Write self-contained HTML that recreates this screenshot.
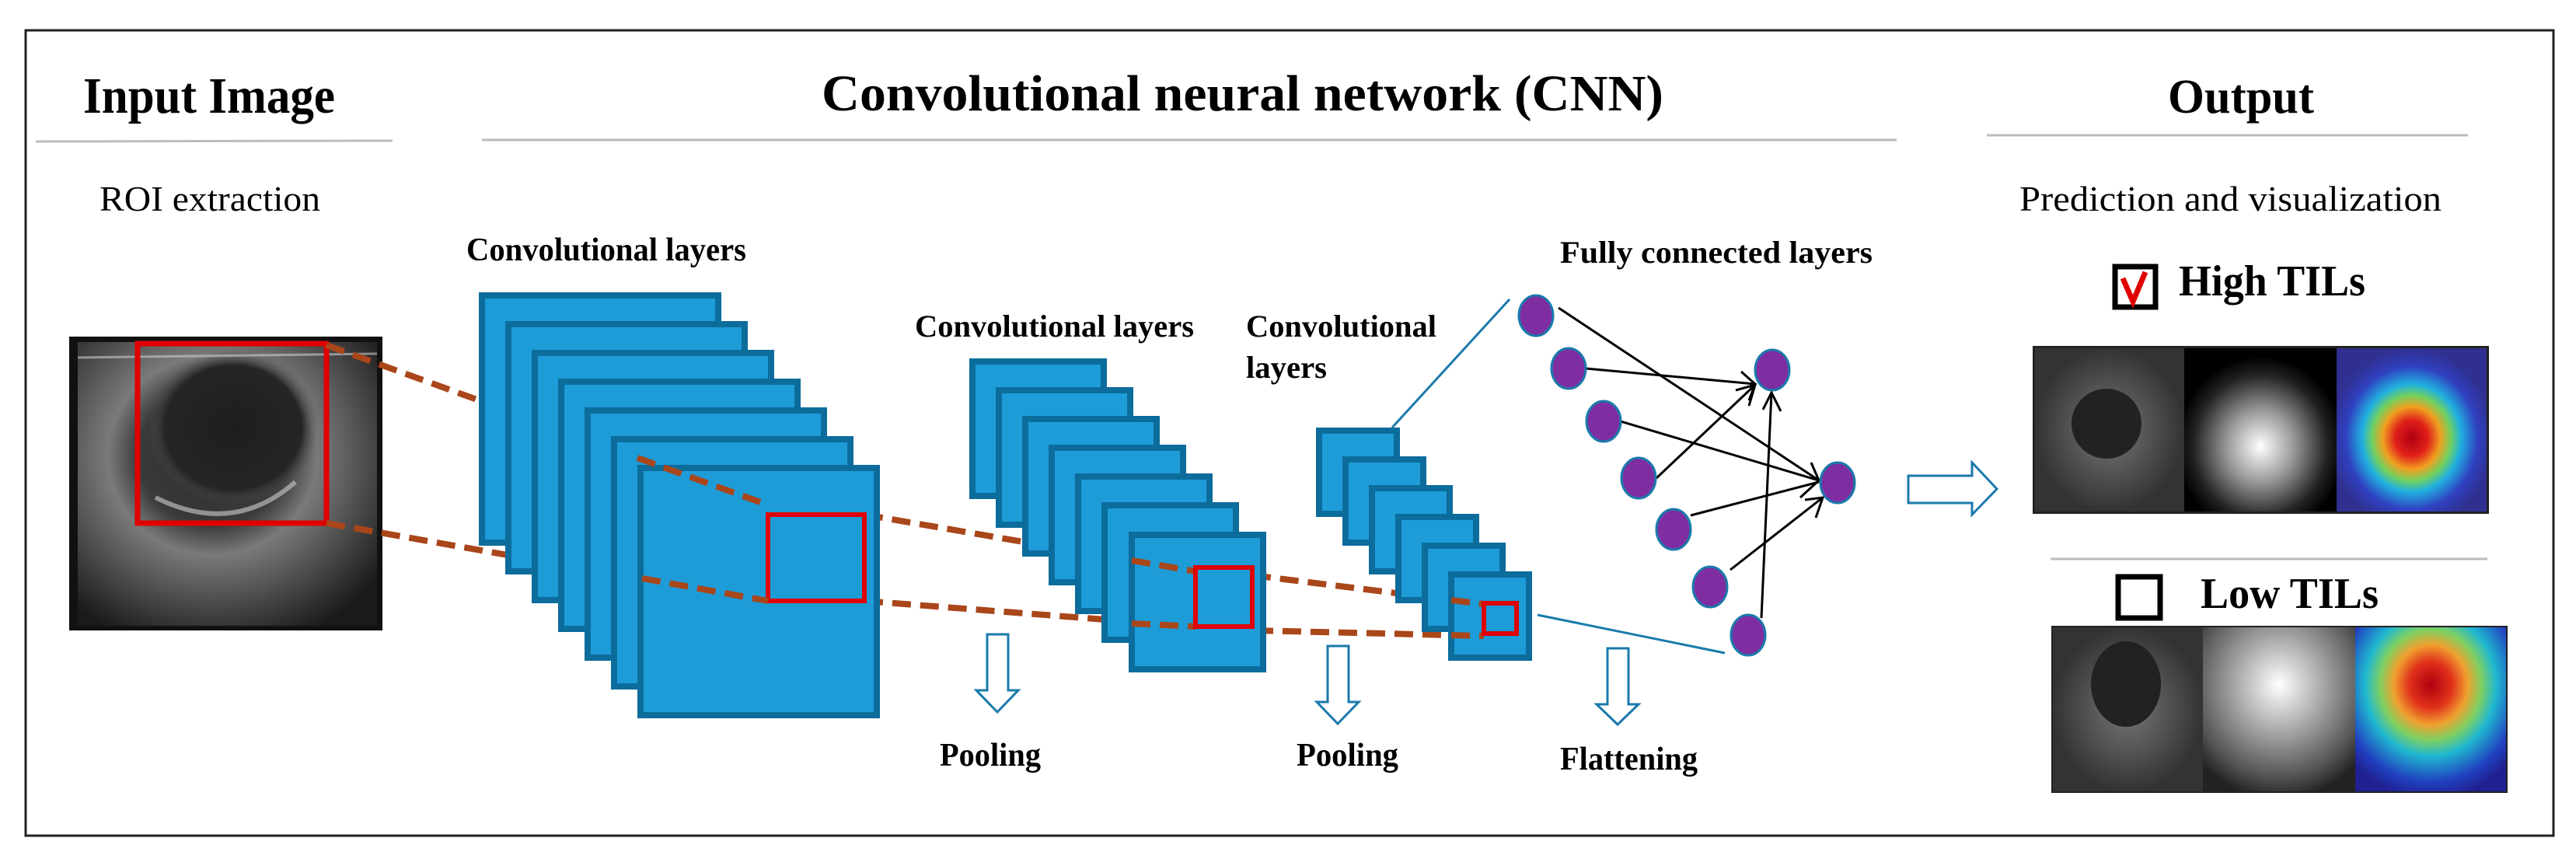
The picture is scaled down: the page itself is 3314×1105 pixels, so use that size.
<!DOCTYPE html>
<html><head><meta charset="utf-8"><style>
html,body{margin:0;padding:0;background:#fff;}
svg{display:block;}
text{font-family:"Liberation Serif",serif;fill:#000;}
.b{font-weight:bold;}
</style></head><body>
<svg width="3314" height="1105" viewBox="0 0 3314 1105" xmlns="http://www.w3.org/2000/svg">
<defs>
<radialGradient id="us1" cx="0.45" cy="0.4" r="0.7">
<stop offset="0" stop-color="#2a2a2a"/><stop offset="0.35" stop-color="#3a3a3a"/><stop offset="0.5" stop-color="#7a7a7a"/><stop offset="0.75" stop-color="#4a4a4a"/><stop offset="1" stop-color="#1a1a1a"/></radialGradient>
<radialGradient id="tum" cx="0.5" cy="0.5" r="0.5">
<stop offset="0" stop-color="#1e1e1e"/><stop offset="0.8" stop-color="#252525"/><stop offset="1" stop-color="#555" stop-opacity="0"/></radialGradient>
<radialGradient id="gray1" cx="0.5" cy="0.5" r="0.5">
<stop offset="0" stop-color="#777"/><stop offset="0.5" stop-color="#555"/><stop offset="1" stop-color="#333"/></radialGradient>
<radialGradient id="glow1" cx="0.5" cy="0.6" r="0.55">
<stop offset="0" stop-color="#fff"/><stop offset="0.4" stop-color="#999"/><stop offset="0.8" stop-color="#222"/><stop offset="1" stop-color="#000"/></radialGradient>
<radialGradient id="glow2" cx="0.5" cy="0.35" r="0.7">
<stop offset="0" stop-color="#fff"/><stop offset="0.4" stop-color="#aaa"/><stop offset="0.8" stop-color="#555"/><stop offset="1" stop-color="#222"/></radialGradient>
<radialGradient id="heat1" cx="0.5" cy="0.55" r="0.55">
<stop offset="0" stop-color="#b00010"/><stop offset="0.2" stop-color="#e0201a"/><stop offset="0.35" stop-color="#f0a020"/><stop offset="0.48" stop-color="#70d060"/><stop offset="0.6" stop-color="#20b0e0"/><stop offset="0.8" stop-color="#3040c0"/><stop offset="1" stop-color="#303090"/></radialGradient>
<radialGradient id="heat2" cx="0.5" cy="0.35" r="0.7">
<stop offset="0" stop-color="#b00010"/><stop offset="0.2" stop-color="#e0301a"/><stop offset="0.35" stop-color="#f0a030"/><stop offset="0.48" stop-color="#80d060"/><stop offset="0.62" stop-color="#20b8d0"/><stop offset="0.85" stop-color="#2040c0"/><stop offset="1" stop-color="#202090"/></radialGradient>
</defs>

<!-- border -->
<rect x="33" y="39" width="3252" height="1036" fill="none" stroke="#222" stroke-width="3"/>

<!-- titles -->
<text x="107" y="145" class="b" font-size="66" textLength="324" lengthAdjust="spacingAndGlyphs">Input Image</text>
<line x1="46" y1="182" x2="505" y2="181" stroke="#bbb" stroke-width="3"/>
<text x="1057" y="142" class="b" font-size="66" textLength="1083" lengthAdjust="spacingAndGlyphs">Convolutional neural network (CNN)</text>
<line x1="620" y1="180" x2="2440" y2="180" stroke="#bbb" stroke-width="3"/>
<text x="2789" y="145" class="b" font-size="62" textLength="188" lengthAdjust="spacingAndGlyphs">Output</text>
<line x1="2556" y1="174" x2="3175" y2="174" stroke="#bbb" stroke-width="3"/>

<text x="128" y="271" font-size="46" textLength="284" lengthAdjust="spacingAndGlyphs">ROI extraction</text>
<text x="2598" y="271" font-size="46" textLength="543" lengthAdjust="spacingAndGlyphs">Prediction and visualization</text>

<!-- ultrasound input -->
<rect x="89" y="433" width="403" height="378" fill="#111"/>
<rect x="100" y="440" width="385" height="365" fill="url(#us1)"/>
<ellipse cx="300" cy="550" rx="110" ry="100" fill="url(#tum)"/>
<path d="M200 640 Q300 690 380 620" stroke="#bbb" stroke-width="6" fill="none" opacity="0.7"/>
<path d="M100 460 L485 455" stroke="#ccc" stroke-width="3" opacity="0.6"/>
<rect x="177" y="442" width="243" height="231" fill="none" stroke="#e00000" stroke-width="7"/>

<!-- dashed connections -->
<g stroke="#a9461a" stroke-width="8" stroke-dasharray="24 12" fill="none">
<line x1="420" y1="444" x2="981" y2="647"/>
<line x1="420" y1="673" x2="988" y2="773"/>
<line x1="1112" y1="662" x2="1538" y2="735"/>
<line x1="1112" y1="773" x2="1538" y2="806"/>
<line x1="1611" y1="740" x2="1909" y2="777"/>
<line x1="1614" y1="811" x2="1909" y2="818"/>
</g>

<!-- stack 1 -->
<g fill="#1d9cd8" stroke="#0c6c9b" stroke-width="8">
<rect x="620" y="380" width="304" height="318"/>
<rect x="654" y="417" width="304" height="318"/>
<rect x="688" y="454" width="304" height="318"/>
<rect x="722" y="491" width="304" height="318"/>
<rect x="756" y="528" width="304" height="318"/>
<rect x="790" y="565" width="304" height="318"/>
<rect x="824" y="602" width="304" height="318"/>
</g>
<rect x="988" y="662" width="124" height="111" fill="none" stroke="#e00000" stroke-width="6"/>
<g stroke="#a9461a" stroke-width="8" stroke-dasharray="24 12" fill="none">
<line x1="820" y1="589" x2="981" y2="647"/>
<line x1="826" y1="744" x2="988" y2="773"/>
</g>

<!-- stack 2 -->
<g fill="#1d9cd8" stroke="#0c6c9b" stroke-width="8">
<rect x="1251" y="465" width="169" height="173"/>
<rect x="1285" y="502" width="169" height="173"/>
<rect x="1319" y="539" width="169" height="173"/>
<rect x="1353" y="576" width="169" height="173"/>
<rect x="1387" y="613" width="169" height="173"/>
<rect x="1421" y="650" width="169" height="173"/>
<rect x="1456" y="688" width="169" height="173"/>
</g>
<g stroke="#a9461a" stroke-width="8" stroke-dasharray="24 12" fill="none">
<line x1="1456" y1="721" x2="1538" y2="735"/>
<line x1="1456" y1="802" x2="1538" y2="806"/>
</g>
<rect x="1538" y="730" width="73" height="76" fill="none" stroke="#e00000" stroke-width="6"/>

<!-- stack 3 -->
<g fill="#1d9cd8" stroke="#0c6c9b" stroke-width="8">
<rect x="1697" y="554" width="100" height="107"/>
<rect x="1731" y="591" width="100" height="107"/>
<rect x="1765" y="628" width="100" height="107"/>
<rect x="1799" y="665" width="100" height="107"/>
<rect x="1833" y="702" width="100" height="107"/>
<rect x="1867" y="739" width="100" height="107"/>
</g>
<g stroke="#a9461a" stroke-width="8" stroke-dasharray="24 12" fill="none">
<line x1="1867" y1="772" x2="1909" y2="777"/>
<line x1="1867" y1="817" x2="1909" y2="818"/>
</g>
<rect x="1909" y="776" width="42" height="39" fill="none" stroke="#e00000" stroke-width="6"/>

<!-- blue lines to FC -->
<line x1="1791" y1="550" x2="1942" y2="385" stroke="#1a7aab" stroke-width="3"/>
<line x1="1978" y1="791" x2="2219" y2="840" stroke="#1a7aab" stroke-width="3"/>

<!-- labels -->
<text x="600" y="335" class="b" font-size="42" textLength="360" lengthAdjust="spacingAndGlyphs">Convolutional layers</text>
<text x="1177" y="433" class="b" font-size="40" textLength="359" lengthAdjust="spacingAndGlyphs">Convolutional layers</text>
<text x="1603" y="433" class="b" font-size="40" textLength="245" lengthAdjust="spacingAndGlyphs">Convolutional</text>
<text x="1603" y="486" class="b" font-size="40" textLength="104" lengthAdjust="spacingAndGlyphs">layers</text>
<text x="2007" y="338" class="b" font-size="40" textLength="402" lengthAdjust="spacingAndGlyphs">Fully connected layers</text>
<text x="1209" y="985" class="b" font-size="42" textLength="130" lengthAdjust="spacingAndGlyphs">Pooling</text>
<text x="1668" y="985" class="b" font-size="42" textLength="131" lengthAdjust="spacingAndGlyphs">Pooling</text>
<text x="2007" y="990" class="b" font-size="42" textLength="177" lengthAdjust="spacingAndGlyphs">Flattening</text>

<!-- hollow down arrows -->
<g fill="#fff" stroke="#1a7aab" stroke-width="3" stroke-linejoin="miter">
<path d="M1270 816 H1297 V888 H1310 L1283 916 L1256 888 H1270 Z"/>
<path d="M1708 831 H1735 V903 H1748 L1721 931 L1694 903 H1708 Z"/>
<path d="M2068 834 H2095 V906 H2108 L2081 932 L2054 906 H2068 Z"/>
</g>

<!-- FC connections -->
<g stroke="#000" stroke-width="3" fill="none">
<line x1="2005" y1="396" x2="2340" y2="618"/>
<line x1="2040" y1="474" x2="2258" y2="494"/>
<line x1="2085" y1="542" x2="2340" y2="618"/>
<line x1="2131" y1="615" x2="2258" y2="495"/>
<line x1="2175" y1="663" x2="2340" y2="620"/>
<line x1="2226" y1="733" x2="2345" y2="640"/>
<line x1="2266" y1="795" x2="2279" y2="505"/>
<polyline points="2240,478 2258,494 2250,515"/>
<polyline points="2233,502 2258,495 2250,522"/>
<polyline points="2268,527 2279,505 2291,529"/>
<polyline points="2330,595 2340,618 2316,640"/>
<polyline points="2322,643 2345,640 2336,666"/>
</g>

<!-- FC nodes -->
<g fill="#7f2ea2" stroke="#1a7aab" stroke-width="3">
<ellipse cx="1976" cy="406" rx="22" ry="26"/>
<ellipse cx="2018" cy="474" rx="22" ry="26"/>
<ellipse cx="2063" cy="542" rx="22" ry="26"/>
<ellipse cx="2108" cy="615" rx="22" ry="26"/>
<ellipse cx="2153" cy="681" rx="22" ry="26"/>
<ellipse cx="2200" cy="755" rx="22" ry="26"/>
<ellipse cx="2249" cy="817" rx="22" ry="26"/>
<ellipse cx="2280" cy="476" rx="22" ry="26"/>
<ellipse cx="2364" cy="621" rx="22" ry="26"/>
</g>

<!-- big right arrow -->
<path d="M2455 612 H2537 V595 L2569 629 L2537 662 V647 H2455 Z" fill="#fff" stroke="#1a7aab" stroke-width="3"/>

<!-- High TILs -->
<rect x="2721" y="343" width="52" height="52" fill="#fff" stroke="#000" stroke-width="7"/>
<path d="M2731 358 L2744 388 L2760 350" stroke="#e00000" stroke-width="7" fill="none"/>
<text x="2803" y="380" class="b" font-size="56" textLength="240" lengthAdjust="spacingAndGlyphs">High TILs</text>
<rect x="2615" y="445" width="587" height="216" fill="#222"/>
<rect x="2618" y="448" width="192" height="210" fill="url(#gray1)"/>
<ellipse cx="2710" cy="545" rx="45" ry="45" fill="#222"/>
<rect x="2810" y="448" width="196" height="210" fill="url(#glow1)"/>
<rect x="3006" y="448" width="193" height="210" fill="url(#heat1)"/>

<line x1="2638" y1="719" x2="3200" y2="719" stroke="#bbb" stroke-width="3"/>

<!-- Low TILs -->
<rect x="2725" y="742" width="54" height="53" fill="#fff" stroke="#000" stroke-width="7"/>
<text x="2831" y="782" class="b" font-size="56" textLength="229" lengthAdjust="spacingAndGlyphs">Low TILs</text>
<rect x="2639" y="805" width="587" height="215" fill="#222"/>
<rect x="2641" y="807" width="193" height="211" fill="url(#gray1)"/>
<ellipse cx="2735" cy="880" rx="45" ry="55" fill="#222"/>
<rect x="2834" y="807" width="196" height="211" fill="url(#glow2)"/>
<rect x="3030" y="807" width="194" height="211" fill="url(#heat2)"/>
</svg>
</body></html>
